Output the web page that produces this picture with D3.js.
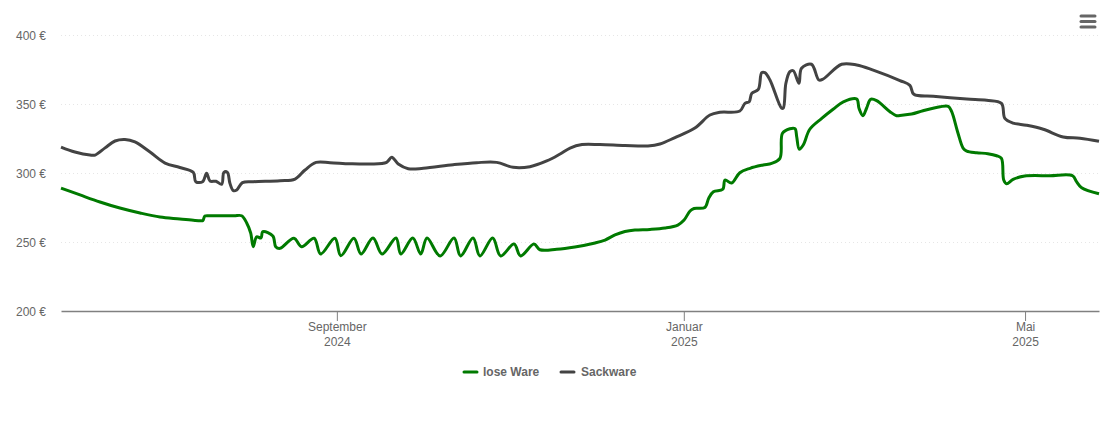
<!DOCTYPE html>
<html>
<head>
<meta charset="utf-8">
<script src="https://cdn.jsdelivr.net/npm/d3@7/dist/d3.min.js"></script>
<style>
  html, body { margin: 0; padding: 0; background: #fff; }
  svg { display: block; font-family: "Liberation Sans", Arial, sans-serif; }
</style>
</head>
<body>
<svg id="svg" width="1110" height="422"></svg>
<script>
// days counted from the first date on the chart
const startDate = "2024-05-27";
const endDate = "2025-05-27";

const loseDays = [0, 6.7, 13.7, 20.7, 27.8, 34.8, 41.8, 47.1, 49.3, 49.9, 50.6, 52.5, 57.7, 61, 63.5, 65.3, 66.7, 67.6, 68.8, 70.3, 71, 74.5, 75.5, 77, 81.9, 84.6, 89, 91.3, 96.3, 98.4, 103, 105.5, 109.7, 112.9, 117.8, 119.5, 123.7, 126.5, 128.7, 133.3, 138.2, 140.5, 144.9, 147.3, 151.8, 154.6, 159.3, 161.6, 166.3, 168.4, 174.3, 180.7, 187.8, 191.3, 194.8, 198.3, 201.8, 207.1, 212.4, 216.9, 219.1, 221.2, 222.6, 226.4, 227.8, 229.4, 232.7, 233.5, 235.8, 238.7, 242.3, 246.9, 249.9, 252.8, 253.7, 256.3, 258.1, 258.7, 259.6, 261, 263.3, 267.5, 271.5, 275.1, 279.8, 280.6, 282, 283.3, 284.7, 286.8, 291.5, 293.8, 295, 299.1, 303.1, 309.1, 312, 313.2, 315.4, 317.2, 318.5, 322, 325.9, 329, 330.7, 331.5, 332.5, 334.8, 338.9, 347.7, 355.7, 357.1, 358.9, 365];
const losePrices = [289.1, 284.1, 279, 274.6, 271, 268.1, 266.7, 265.6, 265.4, 265.6, 268.8, 269, 269, 269, 269, 263.8, 256.5, 246.6, 253.8, 252.9, 257.5, 254.3, 246.6, 245.4, 252.7, 246.6, 252.7, 241.3, 252.7, 240.1, 252.7, 241.3, 252.9, 241.3, 252.9, 241.3, 252.9, 241.3, 252.9, 239.9, 252.9, 239.9, 252.9, 239.9, 252.9, 239.9, 248.5, 239.9, 248.5, 244.4, 244.7, 246.4, 249.3, 251.4, 255.1, 257.6, 258.7, 259.1, 260.1, 262.3, 265.9, 272.5, 274.3, 275, 281.9, 286.4, 288.2, 294.9, 292.7, 300.2, 303.4, 305.8, 307, 310.6, 328.8, 332.1, 332.1, 326.3, 317.2, 320.3, 331.7, 339.6, 346.2, 351.6, 353.6, 346.9, 341.5, 347.1, 353.4, 352.4, 344.4, 341.5, 341.7, 342.7, 345.1, 348, 348.3, 344.4, 329, 318.1, 315.9, 314.7, 314, 312.5, 310.6, 294.9, 292.2, 295.4, 297.8, 298, 298, 293.7, 289.3, 285];

const sackDays = [0, 4.9, 10.2, 12, 15.5, 19, 22.5, 26, 31.3, 36.6, 41.8, 46.5, 47.4, 49.8, 51.2, 52.4, 54.5, 56.5, 57.3, 58.5, 59.4, 60.6, 61.8, 63.8, 67.6, 77, 82.3, 85.8, 89.7, 94.6, 101.6, 108.6, 114.5, 116.3, 118.6, 122.1, 127.4, 137.9, 146.2, 153.2, 159, 164.9, 170.8, 175.5, 179, 183.2, 189.5, 198.3, 206.4, 210.6, 215.9, 222.9, 228.2, 231.7, 238.7, 240.5, 242, 242.9, 245.2, 246.4, 247.5, 249.3, 253.4, 254, 254.9, 256.3, 257.5, 259.5, 260.4, 263.9, 266.5, 268, 274.5, 279.8, 285.6, 295, 298.5, 299.9, 306.7, 318.5, 325.5, 330.7, 331.9, 334.8, 339.5, 345.4, 352.4, 358.3, 365];
const sackPrices = [318.8, 315.2, 313, 313, 318.2, 323.2, 324.3, 322.5, 315.2, 307.2, 304, 300.5, 293.7, 293.7, 299.8, 294.2, 294, 291.8, 300.5, 300.5, 292.5, 287.2, 287.7, 293, 293.7, 294.4, 295.6, 302.2, 307.7, 307.5, 306.7, 306.5, 307.7, 311.4, 306.5, 303.1, 303.4, 306, 307.5, 307.7, 304.1, 304.6, 308.7, 313.8, 318.1, 320.6, 320.6, 319.9, 319.6, 321, 325.7, 332.6, 342, 344, 344.9, 350.5, 351.7, 357.7, 360.6, 372.7, 372.7, 367.4, 346.9, 347.1, 365, 373.4, 374.1, 365, 375.9, 378.8, 367.4, 368.1, 378.8, 378.3, 374.6, 367, 363.5, 357, 355.6, 353.6, 352.7, 350.5, 339.6, 336.2, 334.6, 331.7, 326.1, 325.2, 323];

const yTicks = [200, 250, 300, 350, 400];
const xTickDates = ["2024-09-01", "2025-01-01", "2025-05-01"];
const xTickMonths = ["September", "Januar", "Mai"];
const xTickYears = ["2024", "2025", "2025"];
const seriesNames = ["lose Ware", "Sackware"];
const seriesColors = ["#007a00", "#434343"];

const plotLeft = 61, plotRight = 1099, plotTop = 35, plotBottom = 311;

const svg = d3.select("svg");

const xScale = d3.scaleUtc()
  .domain([new Date(startDate), new Date(endDate)])
  .range([plotLeft, plotRight]);

const yScale = d3.scaleLinear()
  .domain([200, 400])
  .range([plotBottom, plotTop]);

const dayToDate = d => new Date(new Date(startDate).getTime() + d * 864e5);

// horizontal grid + y labels
const yAxis = svg.append("g")
  .attr("transform", `translate(${plotLeft}, 0)`)
  .call(d3.axisLeft(yScale).tickValues(yTicks).tickSize(0).tickPadding(15).tickFormat(d => d + " €"));
yAxis.select(".domain").remove();
yAxis.selectAll("text")
  .attr("y", 0.7)
  .attr("font-family", "Liberation Sans, Arial, sans-serif")
  .attr("font-size", 12)
  .attr("fill", "#666");
yAxis.selectAll(".tick line")
  .attr("x2", plotRight - plotLeft)
  .attr("stroke", "#e6e6e6")
  .attr("stroke-dasharray", "1,3")
  .attr("display", d => d === 200 ? "none" : null);

// x axis, labels have two lines
const xDates = xTickDates.map(d => new Date(d));
const xAxis = svg.append("g")
  .attr("transform", `translate(0, ${plotBottom})`)
  .call(d3.axisBottom(xScale).tickValues(xDates).tickSize(10).tickSizeOuter(0).tickFormat(""));
xAxis.select(".domain").attr("stroke", "#808080").attr("stroke-width", 1.3);
xAxis.selectAll(".tick line").attr("stroke", "#808080");
xAxis.selectAll(".tick text").each(function (d, i) {
  const label = d3.select(this)
    .attr("y", 0)
    .attr("dy", null)
    .attr("font-family", "Liberation Sans, Arial, sans-serif")
    .attr("font-size", 12)
    .attr("fill", "#666");
  label.append("tspan").attr("x", 0).attr("y", 19.5).text(xTickMonths[i]);
  label.append("tspan").attr("x", 0).attr("y", 34.5).text(xTickYears[i]);
});

// series lines
const line = d3.line()
  .x(d => xScale(dayToDate(d[0])))
  .y(d => yScale(d[1]))
  .curve(d3.curveCatmullRom.alpha(0.5));

const seriesData = [d3.zip(loseDays, losePrices), d3.zip(sackDays, sackPrices)];

svg.selectAll(".series")
  .data(seriesData)
  .enter()
  .append("path")
  .attr("class", "series")
  .attr("d", line)
  .attr("fill", "none")
  .attr("stroke", (d, i) => seriesColors[i])
  .attr("stroke-width", 3)
  .attr("stroke-linejoin", "round")
  .attr("stroke-linecap", "butt");

// legend
const legend = svg.append("g");
const legendX = [464, 561];
const legendTextX = [483, 581];
seriesNames.forEach((name, i) => {
  legend.append("line")
    .attr("x1", legendX[i]).attr("x2", legendX[i] + 13)
    .attr("y1", 372).attr("y2", 372)
    .attr("stroke", seriesColors[i])
    .attr("stroke-width", 3)
    .attr("stroke-linecap", "round");
  legend.append("text")
    .attr("x", legendTextX[i])
    .attr("y", 376)
    .attr("font-size", 12)
    .attr("font-weight", "bold")
    .attr("fill", "#666")
    .text(name);
});

// menu icon
[16, 21.5, 27].forEach(y => {
  svg.append("line")
    .attr("x1", 1081).attr("x2", 1095)
    .attr("y1", y).attr("y2", y)
    .attr("stroke", "#666")
    .attr("stroke-width", 3)
    .attr("stroke-linecap", "round");
});
</script>
</body>
</html>
